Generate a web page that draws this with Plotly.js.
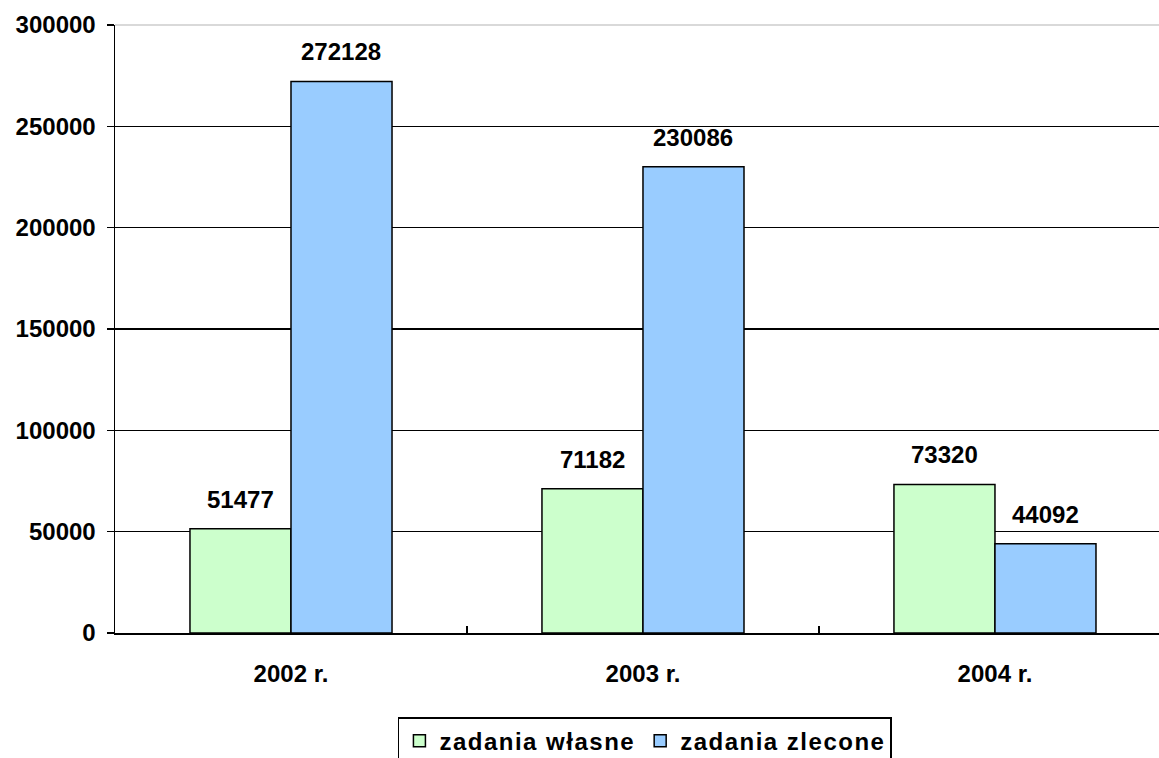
<!DOCTYPE html>
<html>
<head>
<meta charset="utf-8">
<script src="https://cdn.plot.ly/plotly-3.0.1.min.js"></script>
<style>
html,body{margin:0;padding:0;background:#fff;}
.legendtext{letter-spacing:1.5px;}
</style>
</head>
<body>
<div id="chart" style="width:1159px;height:758px;"></div>
<script>
const categories = ["2002 r.", "2003 r.", "2004 r."];
const seriesNames = ["zadania własne", "zadania zlecone"];
const wlasne = [51477, 71182, 73320];
const zlecone = [272128, 230086, 44092];
const yTicks = [0, 50000, 100000, 150000, 200000, 250000, 300000];

const FONT = "Liberation Sans, Arial, sans-serif";
const barOutline = {color: "#000000", width: 1.5};

const traces = [
  {type: "bar", name: seriesNames[0], x: categories, y: wlasne,
   marker: {color: "#CCFFCC", line: barOutline}, hoverinfo: "none"},
  {type: "bar", name: seriesNames[1], x: categories, y: zlecone,
   marker: {color: "#99CCFF", line: barOutline}, hoverinfo: "none"}
];

const halfBar = 50.5;
const annotations = [];
[wlasne, zlecone].forEach((vals, s) => {
  vals.forEach((v, i) => {
    annotations.push({
      x: categories[i], y: v, xref: "x", yref: "y",
      text: String(v), showarrow: false,
      xshift: s === 0 ? -halfBar : halfBar,
      yanchor: "bottom", yshift: 14,
      font: {family: FONT, size: 24, color: "#000", weight: 700}
    });
  });
});

const layout = {
  width: 1159, height: 758,
  margin: {l: 115, r: 0, t: 25, b: 125, pad: 0, autoexpand: false},
  paper_bgcolor: "#ffffff", plot_bgcolor: "#ffffff",
  barmode: "group", bargap: 0.426, bargroupgap: 0,
  showlegend: true,
  font: {family: FONT, size: 24, color: "#000"},
  xaxis: {
    type: "category", range: [-0.5, 2.466],
    showline: true, linecolor: "#000", linewidth: 2,
    ticks: "inside", tickson: "boundaries", ticklen: 7, tickcolor: "#000", tickwidth: 1.5,
    showgrid: false, zeroline: false,
    tickfont: {family: FONT, size: 24, color: "#000", weight: 700},
    ticklabelstandoff: 18
  },
  yaxis: {
    range: [0, 300000], tickvals: yTicks, ticktext: yTicks.map(String),
    showline: true, linecolor: "#000", linewidth: 1.5,
    ticks: "outside", ticklen: 7, tickcolor: "#000", tickwidth: 1.5,
    showgrid: true, gridcolor: "#000", gridwidth: 1.2,
    zeroline: false,
    tickfont: {family: FONT, size: 24, color: "#000", weight: 700},
    ticklabelstandoff: 6
  },
  legend: {
    orientation: "h", x: 0.271, xanchor: "left",
    yref: "container", y: 0.054, yanchor: "top",
    bordercolor: "#000", borderwidth: 1.5, bgcolor: "#fff",
    font: {family: FONT, size: 24, color: "#000", weight: 700},
    itemclick: false, itemdoubleclick: false, tracegroupgap: 0
  },
  shapes: [
    {type: "line", xref: "paper", yref: "paper", x0: 0, x1: 1, y0: 1, y1: 1,
     line: {color: "#d9d9d9", width: 2}, layer: "above"}
  ],
  annotations: annotations
};

Plotly.newPlot("chart", traces, layout, {staticPlot: true, displayModeBar: false});
</script>
</body>
</html>
